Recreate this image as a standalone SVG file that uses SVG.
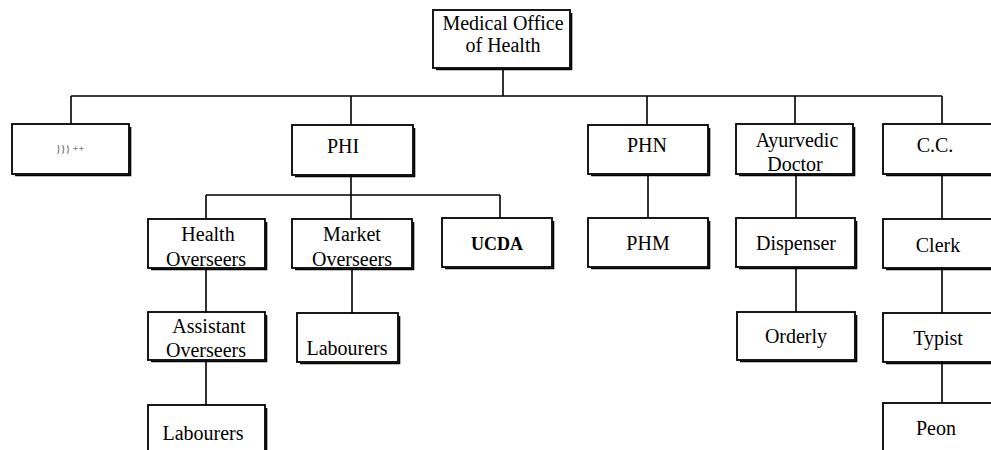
<svg xmlns="http://www.w3.org/2000/svg" width="991" height="450" viewBox="0 0 991 450" font-family="'Liberation Serif', 'Times New Roman', serif">
<style>
.box{fill:#fff;stroke:#000;stroke-width:1.8}
.sh{fill:none;stroke:#000;stroke-width:1.6}
.t{font-family:'Liberation Serif','Times New Roman',serif;font-size:20px;fill:#000;text-anchor:middle}
.b{font-weight:bold;font-size:18px}
.g{font-size:10px;fill:#444}
.c{fill:none;stroke:#000;stroke-width:1.6}
</style>
<rect width="991" height="450" fill="#fff"/>
<g id="connectors">
<path class="c" d="M503 68V96M71 96H942M71 96V124M351 96V125M647 96V125M795 96V124M942 96V124"/>
<path class="c" d="M351 175V195M206 195H500M206 195V219M351 195V219M500 195V218"/>
<path class="c" d="M648 174V218M796 174V218M796 267V312M942 174V219M942 268V313M942 362V403"/>
<path class="c" d="M206 268V312M206 360V405M352 268V313"/>
</g>
<g id="mo"><rect class="box" x="433" y="10" width="137" height="58"/><path class="sh" d="M436 69.5H571.5V13"/><text class="t" x="503" y="30">Medical Office</text><text class="t" x="503" y="52">of Health</text></g>
<g id="n1"><rect class="box" x="12" y="124" width="117" height="50"/><path class="sh" d="M15 175.5H130.5V127"/><text class="t g" x="70" y="152">}}} ++</text></g>
<g id="phi"><rect class="box" x="292" y="125" width="121" height="50"/><path class="sh" d="M295 176.5H414.5V128"/><text class="t" x="343" y="153">PHI</text></g>
<g id="phn"><rect class="box" x="588" y="125" width="120" height="49"/><path class="sh" d="M591 175.5H709.5V128"/><text class="t" x="647" y="152">PHN</text></g>
<g id="ayu"><rect class="box" x="736" y="124" width="117" height="50"/><path class="sh" d="M739 175.5H854.5V127"/><text class="t" x="797" y="147">Ayurvedic</text><text class="t" x="795" y="171">Doctor</text></g>
<g id="cc"><rect class="box" x="883" y="124" width="118" height="50"/><path class="sh" d="M886 175.5H1002"/><text class="t" x="935" y="152">C.C.</text></g>
<g id="ho"><rect class="box" x="148" y="219" width="117" height="49"/><path class="sh" d="M151 269.5H266.5V222"/><text class="t" x="208" y="241">Health</text><text class="t" x="206" y="266">Overseers</text></g>
<g id="mko"><rect class="box" x="292" y="219" width="120" height="49"/><path class="sh" d="M295 269.5H413.5V222"/><text class="t" x="352" y="241">Market</text><text class="t" x="352" y="266">Overseers</text></g>
<g id="ucda"><rect class="box" x="442" y="218" width="110" height="49"/><path class="sh" d="M445 268.5H553.5V221"/><text class="t b" x="497" y="250">UCDA</text></g>
<g id="phm"><rect class="box" x="588" y="218" width="120" height="49"/><path class="sh" d="M591 268.5H709.5V221"/><text class="t" x="648" y="250">PHM</text></g>
<g id="disp"><rect class="box" x="736" y="218" width="119" height="49"/><path class="sh" d="M739 268.5H856.5V221"/><text class="t" x="796" y="250">Dispenser</text></g>
<g id="clerk"><rect class="box" x="883" y="219" width="118" height="49"/><path class="sh" d="M886 269.5H1002"/><text class="t" x="938" y="252">Clerk</text></g>
<g id="asst"><rect class="box" x="148" y="312" width="117" height="48"/><path class="sh" d="M151 361.5H266.5V315"/><text class="t" x="209" y="333">Assistant</text><text class="t" x="206" y="357">Overseers</text></g>
<g id="lab2"><rect class="box" x="297" y="313" width="101" height="49"/><path class="sh" d="M300 363.5H399.5V316"/><text class="t" x="347" y="355">Labourers</text></g>
<g id="ord"><rect class="box" x="737" y="312" width="118" height="48"/><path class="sh" d="M740 361.5H856.5V315"/><text class="t" x="796" y="343">Orderly</text></g>
<g id="typ"><rect class="box" x="883" y="313" width="118" height="49"/><path class="sh" d="M886 363.5H1002"/><text class="t" x="938" y="345">Typist</text></g>
<g id="lab1"><rect class="box" x="148" y="405" width="117" height="60"/><path class="sh" d="M266.5 408V450"/><text class="t" x="203" y="440">Labourers</text></g>
<g id="peon"><rect class="box" x="883" y="403" width="118" height="60"/><text class="t" x="936" y="435">Peon</text></g>
</svg>
